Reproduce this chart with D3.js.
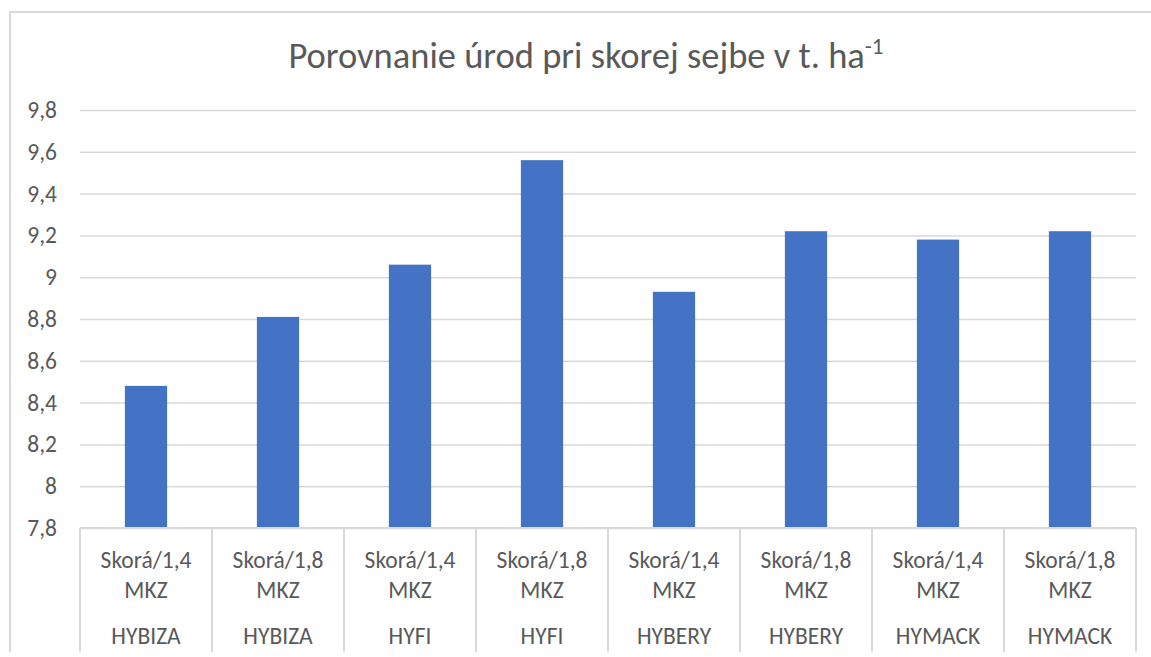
<!DOCTYPE html>
<html>
<head>
<meta charset="utf-8">
<script src="https://cdn.jsdelivr.net/npm/d3@7"></script>
<style>
  body { margin: 0; background: #fff; }
  svg { display: block; font-family: Calibri, Carlito, Lato, sans-serif; }
</style>
</head>
<body>
<svg id="chart" width="1151" height="657"></svg>
<script>
// data
const varieties = ["HYBIZA", "HYBIZA", "HYFI", "HYFI", "HYBERY", "HYBERY", "HYMACK", "HYMACK"];
const treatments = ["Skorá/1,4 MKZ", "Skorá/1,8 MKZ", "Skorá/1,4 MKZ", "Skorá/1,8 MKZ",
  "Skorá/1,4 MKZ", "Skorá/1,8 MKZ", "Skorá/1,4 MKZ", "Skorá/1,8 MKZ"];
const yields = [8.48, 8.81, 9.06, 9.56, 8.93, 9.22, 9.18, 9.22];
const yTicks = [7.8, 8, 8.2, 8.4, 8.6, 8.8, 9, 9.2, 9.4, 9.6, 9.8];

const svg = d3.select("#chart");
const width = 1151;
const textColor = "#595959";
const lineColor = "#d9d9d9";
const labelSize = "23.5px";

const plot = { left: 80, right: 1136, top: 110, bottom: 528 };
const axisBottom = 652;

// outer chart frame (cut off at right/bottom in the reference)
svg.append("path")
  .attr("d", `M10,${axisBottom} V12 H${width + 5}`)
  .attr("fill", "none")
  .attr("stroke", lineColor)
  .attr("stroke-width", 2);

// title
const title = svg.append("text")
  .attr("x", 586)
  .attr("y", 68)
  .attr("text-anchor", "middle")
  .attr("font-size", "36.5px")
  .attr("fill", textColor);
title.append("tspan").text("Porovnanie úrod pri skorej sejbe v t. ha");
title.append("tspan")
  .attr("dy", -14)
  .attr("font-size", "23px")
  .text("-1");

const x = d3.scaleBand()
  .domain(d3.range(yields.length))
  .range([plot.left, plot.right])
  .paddingInner(0.68)
  .paddingOuter(0.34);

const y = d3.scaleLinear()
  .domain([7.8, 9.8])
  .range([plot.bottom, plot.top]);

// y axis + gridlines
const yAxis = svg.append("g")
  .attr("transform", `translate(${plot.left},0)`)
  .call(d3.axisLeft(y)
    .tickValues(yTicks)
    .tickSize(-(plot.right - plot.left))
    .tickPadding(23)
    .tickFormat((d) => String(+d.toFixed(1)).replace(".", ",")));

yAxis.select(".domain").remove();
yAxis.selectAll(".tick line")
  .attr("stroke", lineColor)
  .attr("stroke-width", 1.5);
yAxis.selectAll(".tick text")
  .attr("fill", textColor)
  .attr("font-size", labelSize)
  .attr("font-family", "Calibri, Carlito, Lato, sans-serif");

// bars
svg.append("g")
  .selectAll("rect")
  .data(yields)
  .join("rect")
  .attr("x", (d, i) => x(i))
  .attr("y", (d) => y(d))
  .attr("width", x.bandwidth())
  .attr("height", (d) => y(7.8) - y(d))
  .attr("fill", "#4472C4");

// category axis box
const step = x.step();
const catAxis = svg.append("g");

catAxis.append("line")
  .attr("x1", plot.left)
  .attr("x2", plot.right)
  .attr("y1", plot.bottom)
  .attr("y2", plot.bottom)
  .attr("stroke", lineColor)
  .attr("stroke-width", 2);

catAxis.selectAll("line.sep")
  .data(d3.range(yields.length + 1))
  .join("line")
  .attr("class", "sep")
  .attr("x1", (i) => plot.left + i * step)
  .attr("x2", (i) => plot.left + i * step)
  .attr("y1", plot.bottom)
  .attr("y2", axisBottom)
  .attr("stroke", lineColor)
  .attr("stroke-width", 2);

const labels = catAxis.selectAll("g.cat")
  .data(yields.map((d, i) => ({ treatment: treatments[i], variety: varieties[i], i })))
  .join("g")
  .attr("class", "cat")
  .attr("transform", (d) => `translate(${x(d.i) + x.bandwidth() / 2},0)`);

labels.each(function (d) {
  const g = d3.select(this);
  const words = d.treatment.split(" ");
  const rows = [[words[0], 568], [words[1], 598], [d.variety, 644]];
  rows.forEach(([txt, ty]) => {
    g.append("text")
      .attr("y", ty)
      .attr("text-anchor", "middle")
      .attr("font-size", labelSize)
      .attr("fill", textColor)
      .text(txt);
  });
});
</script>
</body>
</html>
